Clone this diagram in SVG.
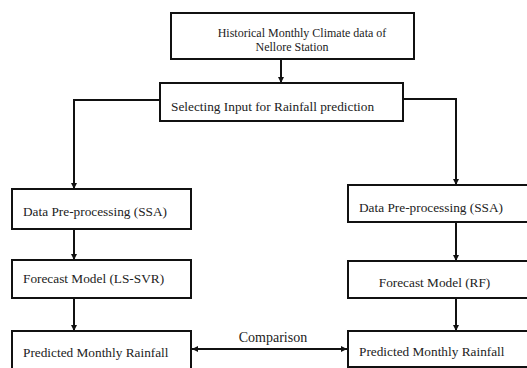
<svg xmlns="http://www.w3.org/2000/svg" width="527" height="368" viewBox="0 0 527 368">
<style>
.box{fill:#fff;stroke:#111;stroke-width:2}
.t{font-family:"Liberation Serif","Times New Roman",serif;font-size:13.3px;fill:#222}
.ts{font-family:"Liberation Serif","Times New Roman",serif;font-size:12px;fill:#222}
.c{fill:none;stroke:#111;stroke-width:2}
</style>
<defs>
<marker id="ah" viewBox="0 0 10 10" refX="10" refY="5" markerWidth="6" markerHeight="6" markerUnits="userSpaceOnUse" orient="auto-start-reverse">
<path d="M0,0 L10,5 L0,10 z" fill="#111"/>
</marker>
</defs>
<rect width="527" height="368" fill="#fff"/>
<g id="connectors">
<line class="c" x1="281" y1="59" x2="281" y2="83" marker-end="url(#ah)"/>
<polyline class="c" points="160,100 74,100 74,189" marker-end="url(#ah)"/>
<polyline class="c" points="403,99 456,99 456,185" marker-end="url(#ah)"/>
<line class="c" x1="74" y1="229" x2="74" y2="260" marker-end="url(#ah)"/>
<line class="c" x1="74" y1="298" x2="74" y2="331" marker-end="url(#ah)"/>
<line class="c" x1="456" y1="222" x2="456" y2="261" marker-end="url(#ah)"/>
<line class="c" x1="456" y1="298" x2="456" y2="331" marker-end="url(#ah)"/>
<line class="c" x1="192" y1="349" x2="347" y2="349" marker-start="url(#ah)" marker-end="url(#ah)"/>
<text class="t" x="273" y="342" text-anchor="middle" style="font-size:14px">Comparison</text>
</g>
<g id="n1">
<rect class="box" x="171" y="13" width="243" height="46"/>
<text class="ts" x="302" y="37" text-anchor="middle">Historical Monthly Climate data of</text>
<text class="ts" x="292" y="51" text-anchor="middle">Nellore Station</text>
</g>
<g id="n2">
<rect class="box" x="160" y="83" width="243" height="38"/>
<text class="t" x="171" y="111">Selecting Input for Rainfall prediction</text>
</g>
<g id="n3">
<rect class="box" x="12" y="189" width="179" height="40"/>
<text class="t" x="23" y="216">Data Pre-processing (SSA)</text>
</g>
<g id="n4">
<rect class="box" x="12" y="260" width="179" height="38"/>
<text class="t" x="23" y="283">Forecast Model (LS-SVR)</text>
</g>
<g id="n5">
<rect class="box" x="12" y="331" width="179" height="38"/>
<text class="t" x="23" y="357">Predicted Monthly Rainfall</text>
</g>
<g id="n6">
<rect class="box" x="348" y="185" width="182" height="37"/>
<text class="t" x="359" y="212">Data Pre-processing (SSA)</text>
</g>
<g id="n7">
<rect class="box" x="348" y="261" width="182" height="37"/>
<text class="t" x="434.5" y="287" text-anchor="middle">Forecast Model (RF)</text>
</g>
<g id="n8">
<rect class="box" x="348" y="331" width="182" height="36"/>
<text class="t" x="359" y="356">Predicted Monthly Rainfall</text>
</g>
</svg>
